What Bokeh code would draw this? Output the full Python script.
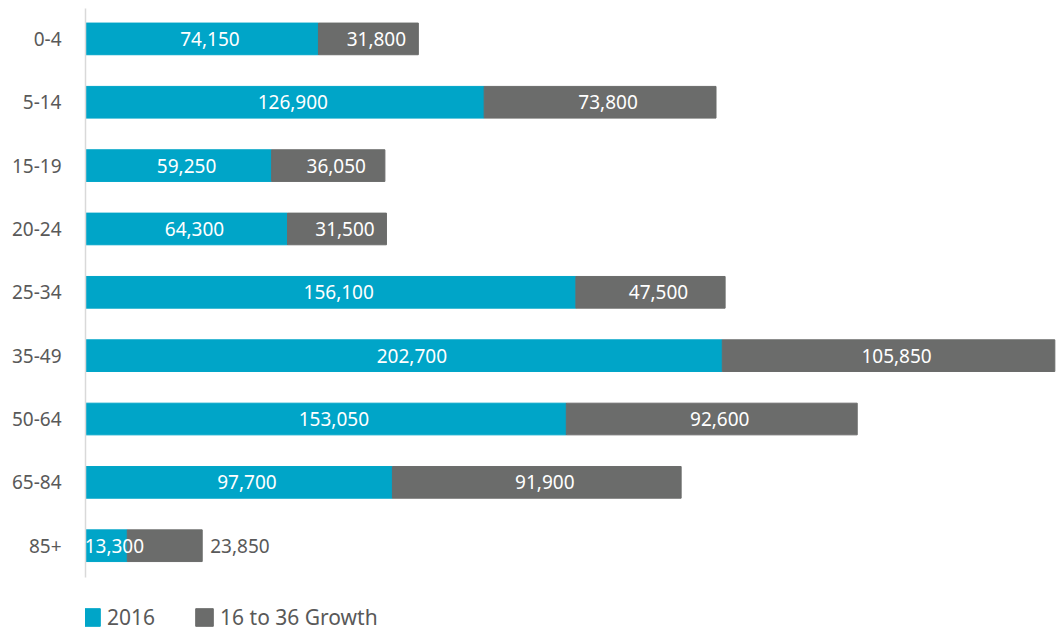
from bokeh.plotting import figure
from bokeh.models import ColumnDataSource, Range1d, Legend, LegendItem, LabelSet, FixedTicker
from bokeh.core.properties import value
from bokeh.embed import file_html
from bokeh.resources import INLINE

categories = ["0-4", "5-14", "15-19", "20-24", "25-34", "35-49", "50-64", "65-84", "85+"]
base_2016 = [74150, 126900, 59250, 64300, 156100, 202700, 153050, 97700, 13300]
growth = [31800, 73800, 36050, 31500, 47500, 105850, 92600, 91900, 23850]
series_names = ["2016", "16 to 36 Growth"]

CYAN = "#00A5C8"
GRAY = "#6B6C6B"
TEXT = "#595959"
FONT = "Noto Sans"

n = len(categories)
ypos = [n - 1 - i for i in range(n)]  # first category at top
totals = [a + b for a, b in zip(base_2016, growth)]
fmt = lambda v: f"{v:,}"

inside = [i < n - 1 for i in range(n)]
src = ColumnDataSource(dict(
    y=ypos,
    base=base_2016,
    top=totals,
    zero=[0] * n,
    mid1=[b / 2 for b in base_2016],
    lab1=[fmt(v) for v in base_2016],
))
src_in = ColumnDataSource(dict(
    y=[y for y, i in zip(ypos, inside) if i],
    x=[b + g / 2 for b, g, i in zip(base_2016, growth, inside) if i],
    t=[fmt(g) for g, i in zip(growth, inside) if i],
))
src_out = ColumnDataSource(dict(
    y=[y for y, i in zip(ypos, inside) if not i],
    x=[t for t, i in zip(totals, inside) if not i],
    t=[fmt(g) for g, i in zip(growth, inside) if not i],
))

p = figure(width=1057, height=632, output_backend="svg", toolbar_location=None,
           y_range=Range1d(-1.37, n - 0.52),
           x_range=Range1d(0, 309400),
           min_border_left=85, min_border_top=8, min_border_right=0, min_border_bottom=0)
p.outline_line_color = None
p.grid.visible = False
p.xaxis.visible = False

r1 = p.hbar(y="y", left="zero", right="base", height=0.5, color=CYAN, source=src)
r2 = p.hbar(y="y", left="base", right="top", height=0.5, color=GRAY, source=src)

common = dict(text_baseline="middle", text_font=value(FONT), text_font_size="19px")
p.add_layout(LabelSet(x="mid1", y="y", text="lab1", source=src, x_offset=8,
                      text_align="center", text_color="white", **common))
p.add_layout(LabelSet(x="x", y="y", text="t", source=src_in, x_offset=8,
                      text_align="center", text_color="white", **common))
p.add_layout(LabelSet(x="x", y="y", text="t", source=src_out, x_offset=8,
                      text_align="left", text_color=TEXT, **common))

ax = p.yaxis[0]
ax.ticker = FixedTicker(ticks=ypos)
ax.major_label_overrides = {y: c for y, c in zip(ypos, categories)}
ax.bounds = (-0.5, n - 0.5)
ax.axis_line_color = "#D9D9D9"
ax.axis_line_width = 1.5
ax.major_tick_line_color = None
ax.minor_tick_line_color = None
ax.major_label_standoff = 18
ax.major_label_text_font = FONT
ax.major_label_text_font_size = "19px"
ax.major_label_text_color = TEXT

legend = Legend(items=[LegendItem(label=series_names[0], renderers=[r1]),
                       LegendItem(label=series_names[1], renderers=[r2])],
                orientation="horizontal", location=(-5, 1),
                label_text_font=FONT, label_text_font_size="21px", label_text_color=TEXT,
                glyph_width=22, glyph_height=22, spacing=38, label_standoff=5,
                padding=0, margin=0, border_line_color=None, background_fill_alpha=0)
p.add_layout(legend, "center")

open("out.html", "w").write(file_html(p, INLINE))
